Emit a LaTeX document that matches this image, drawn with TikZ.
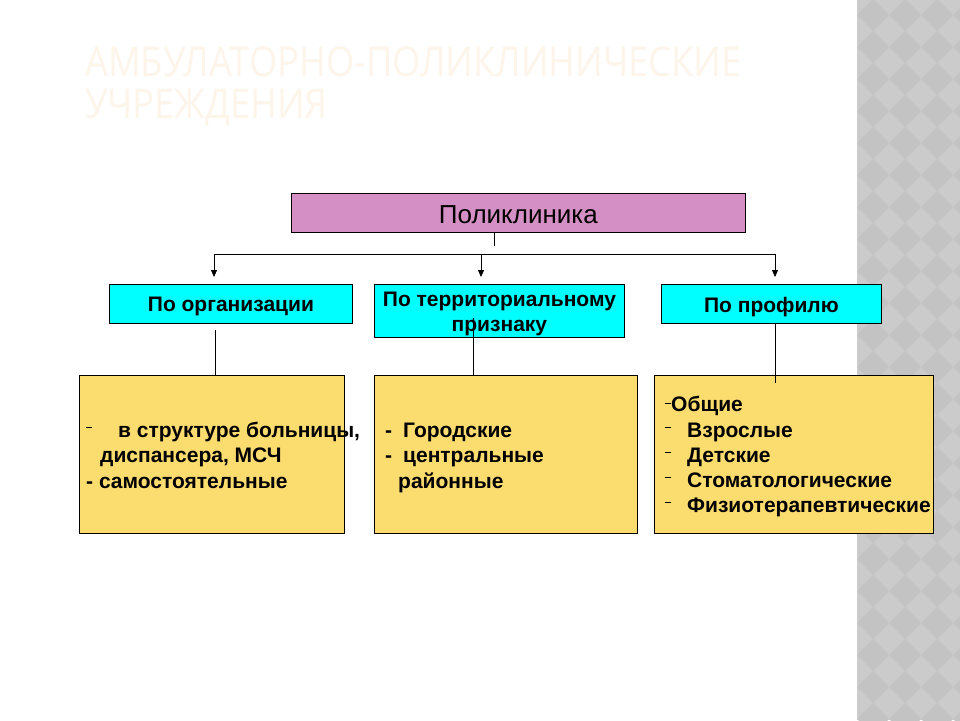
\documentclass[tikz,border=0pt]{standalone}
\usepackage{fontspec}
\setmainfont{Liberation Sans}
\newfontfamily\titlefont[FakeStretch=0.885]{Open Sans}
\usetikzlibrary{arrows.meta}
\definecolor{pinkbox}{HTML}{D48FC4}
\definecolor{cyanbox}{HTML}{00FFFF}
\definecolor{yelbox}{HTML}{FBDC6E}
\definecolor{titlecol}{HTML}{FDF4EA}
\definecolor{stripA}{HTML}{CBCBCB}
\definecolor{stripB}{HTML}{C3C3C3}
\newcommand{\sdash}{\raisebox{9pt}{\rule{6pt}{1pt}}}
\begin{document}
\begin{tikzpicture}[x=1pt,y=-1pt,
  box/.style={draw=black, line width=0.8pt, inner sep=0pt, anchor=north west},
  boxtext/.style={inner sep=0pt, align=center, font=\fontsize{21}{25}\selectfont\bfseries},
  lbl/.style={font=\fontsize{21}{25}\selectfont\bfseries, inner sep=0pt, anchor=base west},
  ttl/.style={font=\titlefont\fontsize{41}{48}\selectfont, text=titlecol, inner sep=0pt, anchor=base west},
  conn/.style={draw=black, line width=0.8pt},
  arr/.style={conn, -{Triangle[width=6pt,length=7pt]}}]
\useasboundingbox (0,0) rectangle (960,720);
\fill[white] (0,0) rectangle (960,720);
% right decorative strip
\fill[stripA] (857,0) rectangle (960,720);
\begin{scope}
\clip (857,0) rectangle (960,720);
\foreach \i in {0,...,3}{
  \foreach \j in {0,...,23}{
    \fill[stripB] ({873+32*\i},{15+32*\j-16}) -- ++(16,16) -- ++(-16,16) -- ++(-16,-16) -- cycle;
  }
}
\end{scope}
% title
\node[ttl] (t1) at (85,76) {АМБУЛАТОРНО-ПОЛИКЛИНИЧЕСКИЕ};
\node[ttl] (t2) at (85,118) {УЧРЕЖДЕНИЯ};
% main box
\node[box, fill=pinkbox, minimum width=454pt, minimum height=39pt] (pk) at (291,193) {};
\node[boxtext, font=\fontsize{26}{30}\selectfont] (pkt) at ([yshift=-2pt]pk.center) {Поликлиника};
% second level
\node[box, fill=cyanbox, minimum width=243pt, minimum height=39pt] (o1) at (109,284) {};
\node[box, fill=cyanbox, minimum width=250pt, minimum height=53pt] (o2) at (374,284) {};
\node[box, fill=cyanbox, minimum width=220pt, minimum height=39pt] (o3) at (661,284) {};
\node[boxtext] (o1t) at ([yshift=-3pt]o1.center) {По организации};
\node[boxtext] (o2t) at ([yshift=-3pt]o2.center) {По территориальному\\признаку};
\node[boxtext] (o3t) at ([yshift=-3pt]o3.center) {По профилю};
% third level boxes
\node[box, fill=yelbox, minimum width=265pt, minimum height=158pt] (y1) at (79,375) {};
\node[box, fill=yelbox, minimum width=263pt, minimum height=158pt] (y2) at (374,375) {};
\node[box, fill=yelbox, minimum width=279pt, minimum height=158pt] (y3) at (654,375) {};
% connectors
\coordinate (stub) at (494,232);
\coordinate (hl) at (214,254);
\coordinate (hm) at (481,254);
\coordinate (hr) at (775,254);
\coordinate (v1) at (215,330);
\coordinate (v2) at (473,318);
\draw[conn] (stub) -- ++(0,14);
\draw[conn] (hl) -- (hr);
\draw[arr, shorten >=7pt] (hl) -- (hl |- o1.north);
\draw[arr, shorten >=7pt] (hm) -- (hm |- o2.north);
\draw[arr, shorten >=7pt] (hr) -- (hr |- o3.north);
\draw[conn] (v1) -- (v1 |- y1.north);
\draw[conn] (v2) -- (v2 |- y2.north);
\draw[conn] (hr |- o3.south) -- ([yshift=-8pt]hr |- y3.north);
% texts of box 1
\node[lbl] (a1) at (86,437) {\sdash\hspace{26pt}в структуре больницы,};
\node[lbl] (a2) at (100,462) {диспансера, МСЧ};
\node[lbl] (a3) at (86,488) {- самостоятельные};
% texts of box 2
\node[lbl] (b1) at (385,437) {-\hspace{11pt}Городские};
\node[lbl] (b2) at (385,462) {-\hspace{11pt}центральные};
\node[lbl] (b3) at (398,488) {районные};
% texts of box 3
\node[lbl] (c1) at (665,411) {\raisebox{-2pt}{\sdash}\hspace{0pt}Общие};
\node[lbl] (c2) at (665,437) {\sdash\hspace{16pt}Взрослые};
\node[lbl] (c3) at (665,462) {\sdash\hspace{16pt}Детские};
\node[lbl] (c4) at (665,487) {\sdash\hspace{16pt}Стоматологические};
\node[lbl] (c5) at (665,512) {\sdash\hspace{16pt}Физиотерапевтические};
\end{tikzpicture}
\end{document}
